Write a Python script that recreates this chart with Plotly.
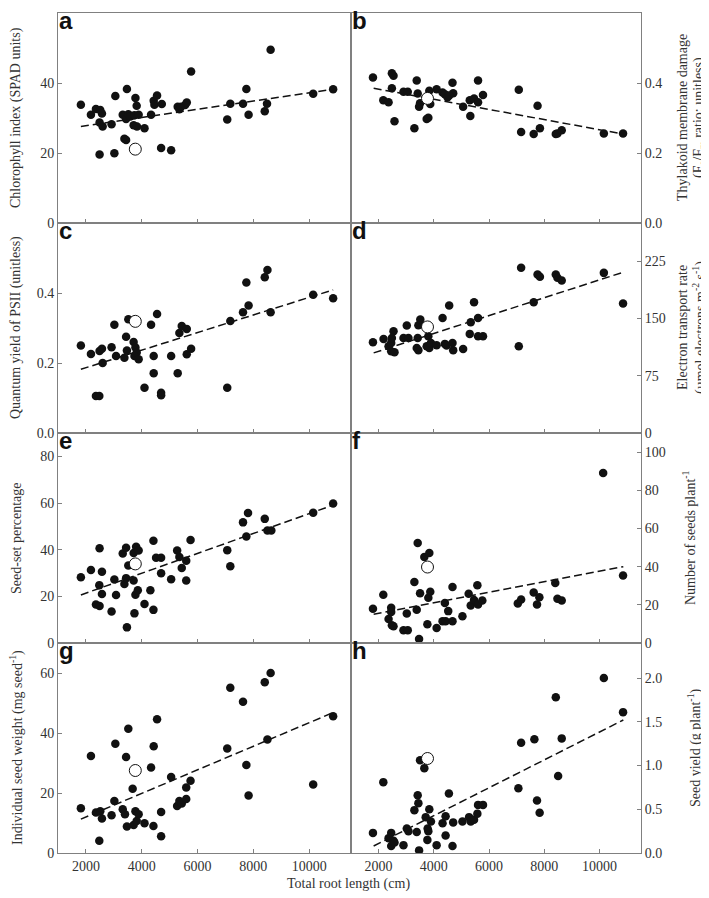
import plotly.graph_objects as go

# ---------------- data ----------------
x_ticks = [2000, 4000, 6000, 8000, 10000]
x_title = "Total root length (cm)"
panel_letters = ["a", "b", "c", "d", "e", "f", "g", "h"]

a_x = [1820,2180,2360,2515,2575,2490,2600,2490,2920,3055,3020,3320,3470,3380,3440,3440,3520,3590,3740,3775,3820,3710,3830,3890,4100,4335,4430,4455,4550,4720,4695,5055,5290,5350,5410,5555,5615,5770,7065,7175,7630,7750,7830,8410,8490,8620,10145,10860]
a_y = [33.8,30.9,32.6,32.3,31.3,28.7,27.6,19.6,28.2,36.3,19.9,30.9,38.3,24.1,23.7,29.7,31.1,30.4,30.8,35.7,33.5,27.9,27.6,30.9,27.1,30.9,34.9,33.8,36.4,34.0,21.4,20.8,33.2,32.5,33.2,33.7,34.4,43.3,29.6,34.1,34.1,38.3,30.9,31.9,34.1,49.5,36.9,38.2]

b_x = [1795,2170,2360,2480,2480,2540,2575,2900,3055,3295,3380,3415,3465,3500,3740,3800,3835,3870,4100,4315,4400,4495,4700,4675,4555,5060,5320,5300,5455,5600,5600,5780,7075,7160,7615,7755,7840,8415,8475,8630,10155,10850]
b_y = [0.416,0.351,0.345,0.385,0.428,0.421,0.291,0.375,0.375,0.271,0.407,0.370,0.332,0.342,0.297,0.301,0.378,0.340,0.382,0.373,0.368,0.359,0.371,0.401,0.364,0.332,0.306,0.351,0.356,0.407,0.345,0.366,0.381,0.260,0.254,0.335,0.271,0.254,0.256,0.265,0.256,0.256]

c_x = [1820,2180,2360,2480,2490,2575,2600,2920,3020,3080,3380,3440,3470,3520,3710,3775,3820,3740,3890,4100,4335,4430,4430,4550,4695,4695,5055,5290,5350,5435,5615,5615,5770,7065,7175,7630,7750,7830,8410,8505,8620,10145,10860]
c_y = [0.250,0.226,0.106,0.106,0.234,0.241,0.200,0.245,0.309,0.220,0.215,0.275,0.236,0.325,0.260,0.244,0.230,0.220,0.211,0.129,0.309,0.220,0.171,0.340,0.115,0.108,0.220,0.171,0.286,0.306,0.297,0.225,0.241,0.129,0.320,0.345,0.430,0.364,0.445,0.466,0.345,0.395,0.385]

d_x = [1795,2180,2360,2455,2540,2455,2575,2480,2900,3020,3080,3380,3440,3415,3440,3510,3740,3800,3835,3895,4100,4315,4400,4460,4555,4675,4700,5060,5300,5335,5455,5600,5600,5780,7075,7160,7615,7755,7840,8415,8475,8630,10155,10850]
d_y = [118.8,123.2,113.6,118.0,133.3,107.0,105.7,124.5,124.5,140.7,124.5,111.4,108.3,124.5,141.1,148.5,113.6,126.7,111.4,118.0,114.9,150.7,116.7,114.5,166.9,118.0,108.3,110.1,129.8,145.1,171.3,150.7,126.7,126.7,113.6,216.3,171.3,207.5,204.5,207.5,203.2,199.7,209.7,169.5]

e_x = [1820,2180,2360,2490,2480,2490,2575,2575,2920,3020,3080,3320,3380,3440,3440,3470,3520,3710,3710,3800,3890,3740,3775,3860,4100,4310,4420,4420,4515,4695,4695,5055,5270,5350,5435,5595,5595,5750,7065,7175,7630,7750,7810,8410,8505,8645,10145,10860]
e_y = [28.2,31.3,16.5,15.9,24.8,40.6,30.5,21.0,13.5,27.2,20.6,38.4,25.3,27.8,40.8,6.7,33.2,26.8,38.6,41.2,39.6,12.7,20.7,22.6,16.7,22.6,14.2,43.8,36.5,36.5,29.9,27.3,39.6,36.9,32.1,26.8,35.3,44.1,39.8,32.9,51.7,45.6,55.7,53.2,48.2,48.2,55.8,59.8]

f_x = [1795,2170,2360,2455,2455,2480,2540,2900,3055,3020,3295,3380,3415,3465,3500,3655,3835,3800,3870,3765,4100,4400,4315,4425,4520,4675,4675,5035,5260,5335,5455,5575,5600,5755,7040,7160,7615,7735,7820,8395,8475,8630,10130,10850]
f_y = [17.9,25.3,12.6,18.4,16.3,9.3,8.8,6.7,6.7,15.4,31.9,17.4,52.4,2.1,26.0,45.1,47.2,23.7,26.8,9.8,7.9,21.0,11.4,11.4,16.7,29.3,11.4,14.0,25.8,19.6,22.5,30.3,20.2,22.3,20.7,22.8,26.5,20.2,24.0,31.4,23.2,22.3,89.1,35.3]

g_x = [1820,2180,2360,2515,2575,2480,2920,3020,3055,3320,3400,3440,3470,3520,3675,3710,3775,3820,3890,4100,4335,4420,4430,4550,4695,4695,5055,5270,5350,5435,5595,5595,5750,7065,7175,7630,7750,7830,8410,8505,8620,10145,10860]
g_y = [14.9,32.3,13.5,13.9,11.5,4.1,12.6,17.3,36.4,14.6,12.9,32.0,8.8,41.4,21.4,9.3,13.9,10.7,12.9,9.9,28.5,9.0,35.6,44.6,5.6,13.7,25.3,15.7,17.3,16.5,18.0,21.8,24.1,34.8,55.1,50.4,29.3,19.2,56.9,37.8,60.0,22.8,45.6]

h_x = [1795,2170,2360,2455,2455,2540,2575,2900,3020,3080,3295,3380,3415,3440,3465,3500,3655,3705,3775,3800,3765,3835,3895,4100,4315,4425,4425,4545,4675,4700,5035,5275,5335,5455,5575,5600,5780,7060,7160,7640,7735,7830,8415,8500,8630,10155,10850]
h_y = [0.23,0.81,0.17,0.23,0.08,0.14,0.12,0.09,0.28,0.25,0.49,0.24,0.66,0.57,0.03,1.06,0.97,0.41,0.28,0.25,0.15,0.50,0.36,0.09,0.34,0.42,0.20,0.68,0.08,0.35,0.36,0.41,0.36,0.38,0.45,0.55,0.55,0.74,1.26,1.30,0.60,0.46,1.78,0.88,1.31,2.00,1.61]

# highlighted (open circle) plant
open_x = 3770
open_y = [21.1, 0.356, 0.319, 138.9, 33.9, 39.8, 27.5, 1.08]

# regression lines (read endpoints)
trend_x = [1820, 10860]
trend_y = [[27.6, 38.2], [0.385, 0.254], [0.182, 0.409], [104.9, 210.6],
           [20.6, 59.1], [15.1, 40.0], [11.3, 46.8], [0.08, 1.52]]

# y-axis titles: one list of lines per panel
y_titles = [
    ["Chlorophyll index (SPAD units)"],
    ["Thylakoid membrane damage", "(F<sub>o</sub>/F<sub>m</sub> ratio; unitless)"],
    ["Quantum yield of PSII (unitless)"],
    ["Electron transport rate", "(µmol electrons m<sup>-2</sup> s<sup>-1</sup>)"],
    ["Seed-set percentage"],
    ["Number of seeds plant<sup>-1</sup>"],
    ["Individual seed weight (mg seed<sup>-1</sup>)"],
    ["Seed yield (g plant<sup>-1</sup>)"],
]
y_ranges = [[0, 60.001], [0, 0.60001], [0, 0.6], [0, 275], [0, 90], [0, 110], [0, 70], [0, 2.4]]
y_tickvals = [[0, 20, 40, 60], [0, 0.2, 0.4, 0.6], [0, 0.2, 0.4], [0, 75, 150, 225],
              [0, 20, 40, 60, 80], [0, 20, 40, 60, 80, 100], [0, 20, 40, 60], [0, 0.5, 1.0, 1.5, 2.0]]
y_formats = ["d", ".1f", ".1f", "d", "d", "d", "d", ".1f"]

xs = [a_x, b_x, c_x, d_x, e_x, f_x, g_x, h_x]
ys = [a_y, b_y, c_y, d_y, e_y, f_y, g_y, h_y]

# ---------------- layout geometry ----------------
W, H = 709, 898
ML, MR, MT, MB = 50, 76, 5, 53
PW, PH = W - ML - MR, H - MT - MB
split = 293 / PW

def px2x(px):
    return (px - ML) / PW

def py2y(py):
    return 1 - (py - MT) / PH

FONT = "Liberation Serif"
TXT = "#333333"
LINE = "#808080"

# title line positions (px) for each panel
title_px = [[8], [674, 691], [8], [674, 691], [8], [681], [8], [686]]

fig = go.Figure()
layout = dict(
    width=W, height=H,
    margin=dict(l=ML, r=MR, t=MT, b=MB),
    paper_bgcolor="white", plot_bgcolor="white",
    showlegend=False,
    font=dict(family=FONT, size=14, color=TXT),
)
annotations = []

for i in range(8):
    row, col = i // 2, i % 2
    n = i + 1
    xa = "x" if n == 1 else f"x{n}"
    ya = "y" if n == 1 else f"y{n}"
    xdom = [0, split] if col == 0 else [split, 1]
    ydom = [1 - (row + 1) * 0.25, 1 - row * 0.25]

    fig.add_trace(go.Scatter(x=trend_x, y=trend_y[i], mode="lines",
                             line=dict(color="#111111", width=1.5, dash="8px,4px"),
                             xaxis=xa, yaxis=ya, hoverinfo="skip"))
    fig.add_trace(go.Scatter(x=xs[i], y=ys[i], mode="markers",
                             marker=dict(size=8.5, color="#111111", line=dict(width=0)),
                             xaxis=xa, yaxis=ya))
    fig.add_trace(go.Scatter(x=[open_x], y=[open_y[i]], mode="markers",
                             marker=dict(size=12, color="white", line=dict(color="#111111", width=1)),
                             xaxis=xa, yaxis=ya))

    xkey = "xaxis" if n == 1 else f"xaxis{n}"
    ykey = "yaxis" if n == 1 else f"yaxis{n}"
    layout[xkey] = dict(
        domain=xdom, anchor=ya, range=[1000, 11500],
        tickvals=x_ticks, tickformat="d", ticks="inside", ticklen=4, tickcolor=LINE,
        showticklabels=(row == 3), tickfont=dict(family=FONT, size=14, color=TXT),
        showline=True, linecolor=LINE, linewidth=1, mirror=True,
        showgrid=False, zeroline=False,
    )
    layout[ykey] = dict(
        domain=ydom, anchor=xa, range=y_ranges[i],
        tickvals=y_tickvals[i], tickformat=y_formats[i],
        side="left" if col == 0 else "right",
        ticks="inside", ticklen=4, tickcolor=LINE,
        tickfont=dict(family=FONT, size=14, color=TXT),
        showline=True, linecolor=LINE, linewidth=1, mirror=True,
        showgrid=False, zeroline=False,
    )

    # panel letter
    left_px = ML if col == 0 else ML + 293
    top_px = MT + row * 210
    annotations.append(dict(
        text=f"<b>{panel_letters[i]}</b>", xref="paper", yref="paper",
        x=px2x(left_px - 1), y=py2y(top_px - 8), xanchor="left", yanchor="top",
        showarrow=False, font=dict(family="Liberation Sans", size=24, color="#111111"),
    ))
    # y title lines
    cy = top_px + 105
    for line_text, tx in zip(y_titles[i], title_px[i]):
        annotations.append(dict(
            text=line_text, xref="paper", yref="paper",
            x=px2x(tx), y=py2y(cy), xanchor="center", yanchor="middle",
            textangle=-90, showarrow=False,
            font=dict(family=FONT, size=14, color=TXT),
        ))

annotations.append(dict(
    text=x_title, xref="paper", yref="paper",
    x=px2x(340), y=py2y(876), xanchor="center", yanchor="middle",
    showarrow=False, font=dict(family=FONT, size=14, color=TXT),
))
layout["annotations"] = annotations
fig.update_layout(**layout)
fig.write_html("out.html")
